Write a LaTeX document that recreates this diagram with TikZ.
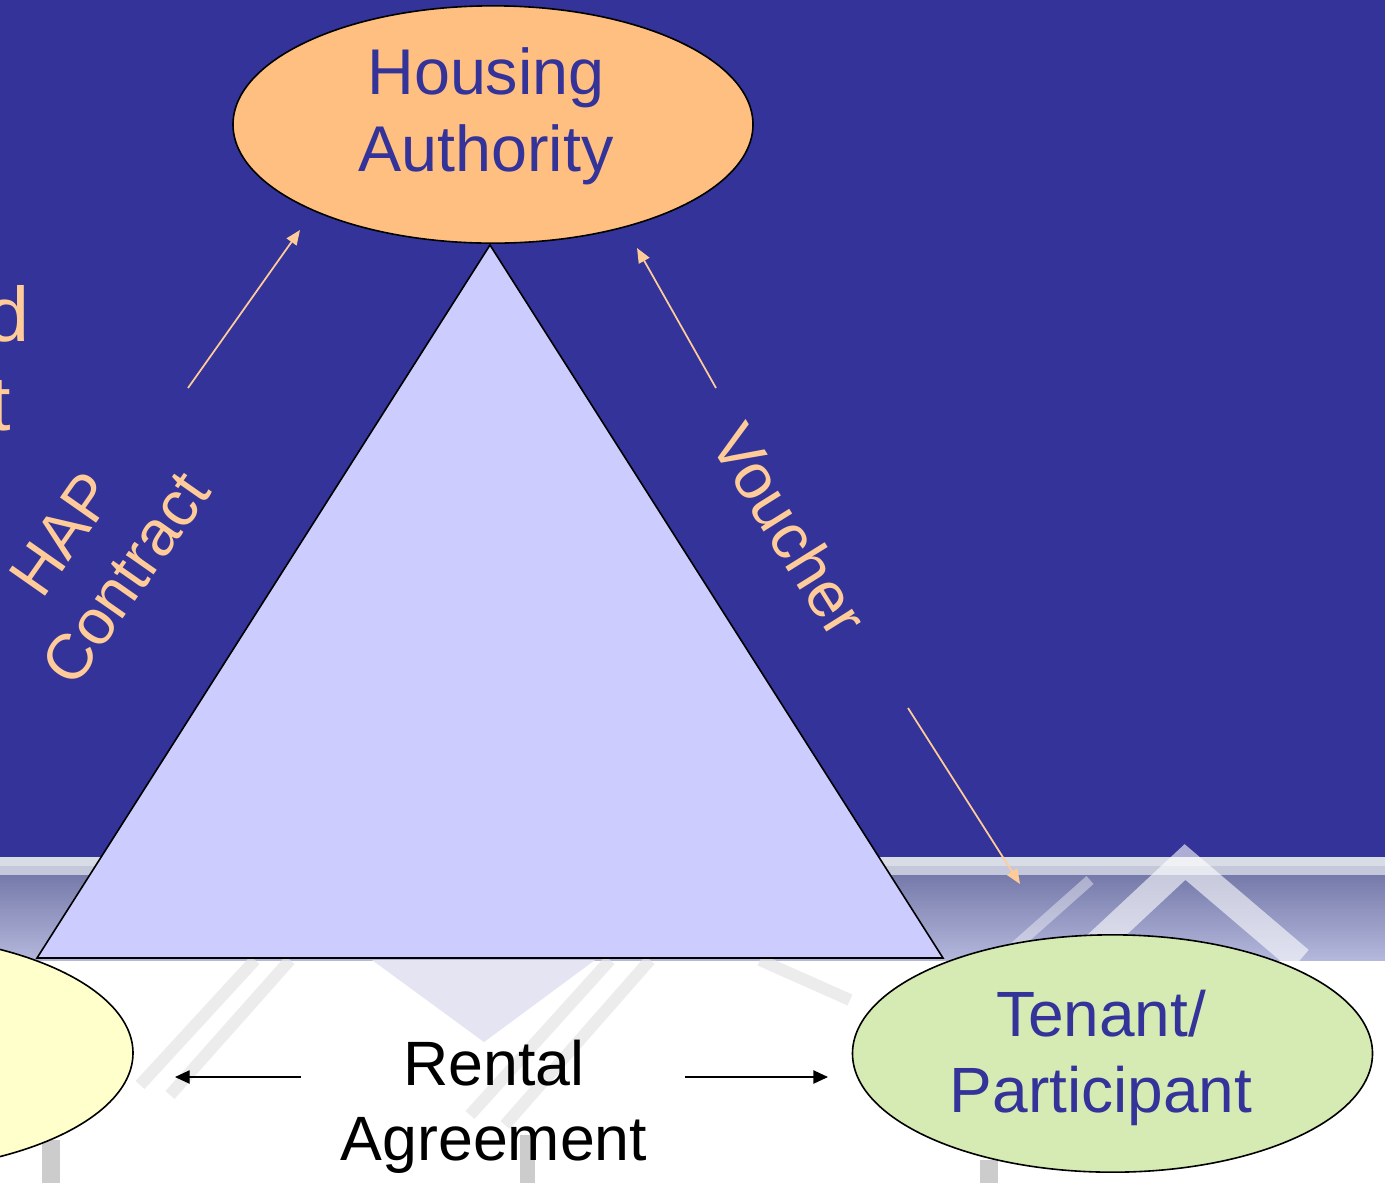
\documentclass[tikz,border=0pt]{standalone}
\usepackage{fontspec}
\setmainfont{Liberation Sans}
\usetikzlibrary{shapes.geometric,arrows.meta}

\definecolor{slideBlue}{RGB}{51,51,153}
\definecolor{haOrange}{RGB}{255,191,128}
\definecolor{tenantGreen}{RGB}{214,235,179}
\definecolor{ownerYellow}{RGB}{255,255,204}
\definecolor{triLilac}{RGB}{204,204,255}
\definecolor{noteOrange}{RGB}{255,204,153}
\definecolor{bandTop}{RGB}{118,122,170}
\definecolor{bandBot}{RGB}{180,184,220}

\tikzset{every picture/.style={line width=0.75pt}}
\tikzset{
	party/.style={ellipse, draw=black, line width=1.2pt, minimum width=390pt, minimum height=178pt, inner sep=0pt},
	partytext/.style={text=slideBlue, font=\fontsize{48}{57}\selectfont, align=center, inner sep=0pt},
	notetext/.style={text=noteOrange, font=\fontsize{48}{58}\selectfont, align=center, inner sep=0pt},
	notearrow/.style={draw=noteOrange, line width=1.3pt, -{Triangle[length=11pt,width=9pt]}},
	rentarrow/.style={draw=black, line width=1pt, -{Triangle[length=11pt,width=10pt]}},
	faint/.style={draw=black!10, line width=9pt, opacity=0.7}}

\begin{document}
\begin{tikzpicture}[x=0.75pt,y=0.75pt,yscale=-1,xscale=1]
	\path[use as bounding box] (0,0) rectangle (1385,1183);

	%Background
	\fill[white] (0,0) rectangle (1385,1183);
	\fill[slideBlue] (0,0) rectangle (1385,857);
	\fill[color={rgb, 255:red, 216; green, 220; blue, 228 }] (0,857) rectangle (1385,866);
	\fill[color={rgb, 255:red, 196; green, 200; blue, 218 }] (0,866) rectangle (1385,875);
	\shade[top color=bandTop, bottom color=bandBot] (0,875) rectangle (1385,960);
	% white chevron in the band
	\draw[white, line width=20pt, opacity=0.6] (1080,960) -- (1185,862) -- (1300,960);
	\draw[white, line width=8pt, opacity=0.4] (1000,960) -- (1090,880);
	% faint stripes below the band
	\fill[color={rgb, 255:red, 228; green, 228; blue, 242 }] (372,960) -- (595,960) -- (484,1042) -- cycle;
	\draw[faint] (140,1085) -- (255,960);
	\draw[faint] (170,1095) -- (290,960);
	\draw[faint] (470,1115) -- (610,960);
	\draw[faint] (505,1125) -- (650,960);
	\draw[faint] (850,1000) -- (760,960);
	\fill[black!20] (42,1140) rectangle (60,1183);
	\fill[black!20] (520,1135) rectangle (535,1183);
	\fill[black!20] (980,1160) rectangle (998,1183);

	%Shape: Ellipse (owner, mostly outside the page)
	\node[party, fill=ownerYellow] (owner) at (-127,1053) {};

	%Shape: Triangle
	\draw[fill=triLilac, line width=1.2pt] (490,245) -- (943,958) -- (37,958) -- cycle;

	%Shape: Ellipse
	\node[party, fill=haOrange] (ha) at (493,124.5) {};
	%Shape: Ellipse
	\node[party, fill=tenantGreen] (tenant) at (1112.5,1053.5) {};

	% Text Node
	\node[partytext, font=\fontsize{48.5}{58}\selectfont] (haText) at (486,116) {Housing\\Authority};
	% Text Node
	\node[partytext] (tenantText) at (1101,1058) {Tenant/\\Participant};
	% Text Node
	\node[partytext, text=black, font=\fontsize{47}{56}\selectfont] (rentText) at (494,1107) {Rental\\Agreement};
	% Text Node
	\node[notetext, rotate=55] (hapText) at (94,556) {HAP\\Contract};
	% Text Node
	\node[notetext, rotate=-58] (voucherText) at (790,530) {Voucher};
	% Text Node (cut off at the left edge)
	\node[notetext, font=\fontsize{58}{70}\selectfont, anchor=base east] (ownerTailD) at (30,341) {d};
	\node[notetext, font=\fontsize{58}{70}\selectfont, anchor=base east] (ownerTailT) at (11,430) {t};

	%Arrows
	\coordinate (hapTail) at (188,388);
	\coordinate (hapTip) at (300,230);
	\coordinate (voucherUpTail) at (716,388);
	\coordinate (voucherUpTip) at (637,248);
	\coordinate (voucherDownTail) at (908,708);
	\coordinate (voucherDownTip) at (1020,884);
	\coordinate (rentLeftTail) at (301,1077);
	\coordinate (rentLeftTip) at (175,1077);
	\coordinate (rentRightTail) at (685,1077);
	\coordinate (rentRightTip) at (828,1077);
	\draw[notearrow] (hapTail) -- (hapTip);
	\draw[notearrow] (voucherUpTail) -- (voucherUpTip);
	\draw[notearrow] (voucherDownTail) -- (voucherDownTip);
	\draw[rentarrow] (rentLeftTail) -- (rentLeftTip);
	\draw[rentarrow] (rentRightTail) -- (rentRightTip);

\end{tikzpicture}
\end{document}
